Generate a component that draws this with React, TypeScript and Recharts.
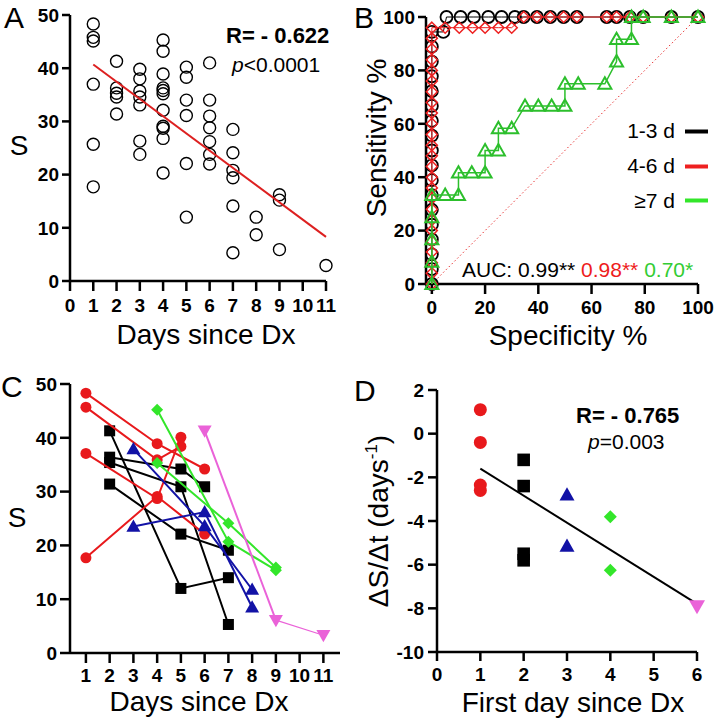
import React from 'react'
import { ScatterChart, Scatter, XAxis, YAxis } from 'recharts'

const FONT = "'Liberation Sans', Arial, Helvetica, sans-serif"
const RED = '#e8191c'
const BLUE = '#1212a6'
const LIME = '#33e62a'
const GREEN = '#2cbf2c'
const PINK = '#ea62d8'

// ---- panel A: S vs days since Dx
const A_DAYS = [1, 2, 3, 4, 5, 6, 7, 8, 9, 11]
const A_SCORES = [
  [48.3, 45.8, 45.1, 37.0, 25.7, 17.7],
  [41.3, 36.3, 35.3, 34.6, 31.4],
  [39.8, 38.0, 35.7, 34.6, 33.1, 26.3, 23.8],
  [45.3, 43.2, 38.9, 36.3, 35.8, 35.2, 32.1, 29.1, 28.7, 26.8, 20.3],
  [40.2, 38.3, 34.0, 31.1, 22.1, 12.0],
  [41.0, 34.0, 31.0, 28.8, 26.2, 23.8, 22.0],
  [28.5, 24.1, 20.8, 19.4, 14.1, 5.3],
  [12.0, 8.7],
  [16.2, 15.2, 5.9],
  [2.9],
]
const A_FIT: [number, number][] = [[1, 40.7], [11, 8.3]]
const A_X_TICKS = [0, 1, 2, 3, 4, 5, 6, 7, 8, 9, 10, 11]
const S_TICKS = [0, 10, 20, 30, 40, 50]

// ---- panel B: ROC curves (specificity %, sensitivity %)
const B_BLACK: [number, number][] = [
  [0, 0], [0, 5.6], [0, 11.1], [0, 16.7], [0, 22.2], [0, 27.8], [0, 33.3], [0, 38.9], [0, 44.4],
  [0, 50], [0, 55.6], [0, 61.1], [0, 66.7], [0, 72.2], [0, 77.8], [0, 83.3], [0, 88.9], [0, 94.4],
  [4.3, 94.4], [5.5, 100], [10.8, 100], [15.8, 100], [21.2, 100], [26.2, 100], [31.2, 100],
  [34.5, 100], [39.5, 100], [44.5, 100], [49.5, 100], [54.5, 100], [65.7, 100], [69.4, 100],
  [74.4, 100], [79.4, 100], [90, 100], [100, 100],
]
const B_RED: [number, number][] = [
  [0, 0], [0, 4], [0, 8], [0, 12], [0, 16], [0, 20], [0, 24], [0, 28], [0, 32], [0, 36], [0, 40],
  [0, 44], [0, 48], [0, 52], [0, 56], [0, 60], [0, 64], [0, 68], [0, 72], [0, 76], [0, 80], [0, 84],
  [0, 88], [0, 92], [0, 96], [5, 96], [10.3, 96], [15.3, 96], [20, 96], [25, 96], [30, 96],
  [34.5, 100], [39.5, 100], [44.5, 100], [49.5, 100], [54.5, 100], [65.7, 100], [69.4, 100],
  [74.4, 100], [79.4, 100], [90, 100], [100, 100],
]
const B_GREEN: [number, number][] = [
  [0, 0], [0, 8.3], [0, 16.7], [0, 25], [0, 33.3], [5, 33.3], [10, 33.3], [10, 41.7], [15, 41.7],
  [20, 41.7], [20, 50], [25, 50], [25, 58.3], [30, 58.3], [35, 66.7], [40, 66.7], [45, 66.7],
  [50, 66.7], [50, 75], [55, 75], [65, 75], [69.4, 83.3], [69.4, 91.7], [75, 91.7], [75, 100],
  [79.4, 100], [90, 100], [100, 100],
]
const B_CHANCE: [number, number][] = [[0, 0], [100, 100]]
const PCT_TICKS = [0, 20, 40, 60, 80, 100]

// ---- panel C: per-patient trajectories
const C_BLACK: [number, number][][] = [
  [[2, 41.3], [5, 12.0], [7, 14.0]],
  [[2, 36.4], [5, 34.2], [6, 30.9]],
  [[2, 35.4], [5, 30.9], [7, 5.3]],
  [[2, 31.4], [5, 22.1], [7, 19.1]],
]
const C_RED: [number, number][][] = [
  [[1, 48.3], [4, 38.9], [6, 34.2]],
  [[1, 45.7], [4, 35.9], [5, 38.4]],
  [[1, 37.1], [4, 28.7], [5, 40.1]],
  [[1, 17.7], [4, 29.1], [6, 22.1]],
]
const C_BLUE: [number, number][][] = [
  [[3, 37.9], [6, 23.6], [8, 11.8]],
  [[3, 23.5], [6, 26.2], [8, 8.5]],
]
const C_GREEN: [number, number][][] = [
  [[4, 45.2], [7, 20.7], [9, 15.4]],
  [[4, 35.3], [7, 24.1], [9, 15.9]],
]
const C_PINK: [number, number][] = [[6, 41.3], [9, 6.1], [11, 3.3]]
const C_X_TICKS = [1, 2, 3, 4, 5, 6, 7, 8, 9, 10, 11]

// ---- panel D: slope vs first day
const D_RED: [number, number][] = [[1, 1.1], [1, -0.4], [1, -2.35], [1, -2.6]]
const D_BLACK: [number, number][] = [[2, -1.2], [2, -2.4], [2, -5.5], [2, -5.8]]
const D_BLUE: [number, number][] = [[3, -2.8], [3, -5.15]]
const D_GREEN: [number, number][] = [[4, -3.8], [4, -6.25]]
const D_PINK: [number, number][] = [[6, -7.9]]
const D_FIT: [number, number][] = [[1, -1.6], [6, -7.8]]
const D_X_TICKS = [0, 1, 2, 3, 4, 5, 6]
const D_Y_TICKS = [-10, -8, -6, -4, -2, 0, 2]

const pts = (a: [number, number][]) => a.map(([x, y]) => ({ x, y }))

const axisLine = { stroke: '#000', strokeWidth: 2.5 }
const tick = { fill: '#000', fontSize: 19, fontWeight: 700, fontFamily: FONT }

// marker shapes
const none = () => <g />
const ring = (r: number, color: string, sw: number) => (p: any) =>
  <circle cx={p.cx} cy={p.cy} r={r} fill="none" stroke={color} strokeWidth={sw} />
const dot = (r: number, color: string) => (p: any) => <circle cx={p.cx} cy={p.cy} r={r} fill={color} />
const square = (h: number, color: string) => (p: any) =>
  <rect x={p.cx - h} y={p.cy - h} width={h * 2} height={h * 2} fill={color} />
const diamond = (h: number, color: string, open = false) => (p: any) => (
  <polygon
    points={`${p.cx},${p.cy - h} ${p.cx + h},${p.cy} ${p.cx},${p.cy + h} ${p.cx - h},${p.cy}`}
    fill={open ? 'none' : color}
    stroke={color}
    strokeWidth={open ? 1.5 : 0}
  />
)
const triUp = (w: number, color: string, open = false) => (p: any) => (
  <polygon
    points={`${p.cx},${p.cy - w} ${p.cx + w},${p.cy + w * 0.75} ${p.cx - w},${p.cy + w * 0.75}`}
    fill={open ? 'none' : color}
    stroke={color}
    strokeWidth={open ? 2 : 0}
  />
)
const triDown = (w: number, color: string) => (p: any) => (
  <polygon points={`${p.cx - w},${p.cy - w * 0.75} ${p.cx + w},${p.cy - w * 0.75} ${p.cx},${p.cy + w}`} fill={color} />
)

function PanelA() {
  const data = A_DAYS.flatMap((d, i) => A_SCORES[i].map((s) => ({ x: d, y: s })))
  return (
    <ScatterChart width={360} height={360} margin={{ top: 15, right: 34, left: 0, bottom: 0 }}>
      <XAxis type="number" dataKey="x" domain={[0, 11]} ticks={A_X_TICKS} interval={0} height={79}
        axisLine={axisLine} tickLine={axisLine} tickSize={10} tickMargin={8} tick={tick} />
      <YAxis type="number" dataKey="y" domain={[0, 50]} ticks={S_TICKS} width={70}
        axisLine={axisLine} tickLine={axisLine} tickSize={8} tickMargin={3} tick={tick} />
      <Scatter data={data} shape={ring(6, '#000', 1.4)} isAnimationActive={false} />
      <Scatter data={pts(A_FIT)} shape={none} line={{ stroke: '#dd2020', strokeWidth: 2 }} isAnimationActive={false} />
    </ScatterChart>
  )
}

function PanelB() {
  return (
    <ScatterChart width={357} height={360} margin={{ top: 17, right: 19, left: 0, bottom: 0 }}>
      <XAxis type="number" dataKey="x" domain={[-2.2, 100]} ticks={PCT_TICKS} interval={0} height={76}
        axisLine={axisLine} tickLine={axisLine} tickSize={10} tickMargin={7} tick={tick} />
      <YAxis type="number" dataKey="y" domain={[0, 100]} ticks={PCT_TICKS} width={66}
        axisLine={axisLine} tickLine={axisLine} tickSize={8} tickMargin={3} tick={tick} />
      <Scatter data={pts(B_CHANCE)} shape={none} isAnimationActive={false}
        line={{ stroke: '#e83030', strokeWidth: 1, strokeDasharray: '1.5 2.5' }} />
      <Scatter data={pts(B_BLACK)} shape={ring(6, '#000', 1.8)} line={{ stroke: '#000', strokeWidth: 1 }} isAnimationActive={false} />
      <Scatter data={pts(B_RED)} shape={diamond(5.5, '#ee2020', true)} line={{ stroke: '#ee2020', strokeWidth: 1 }} isAnimationActive={false} />
      <Scatter data={pts(B_GREEN)} shape={triUp(6.5, GREEN, true)} line={{ stroke: GREEN, strokeWidth: 1.5 }} isAnimationActive={false} />
    </ScatterChart>
  )
}

function PanelC() {
  const lw = 2
  return (
    <ScatterChart width={360} height={360} margin={{ top: 24, right: 20, left: 0, bottom: 0 }}>
      <XAxis type="number" dataKey="x" domain={[0.33, 11.7]} ticks={C_X_TICKS} interval={0} height={67}
        axisLine={axisLine} tickLine={axisLine} tickSize={10} tickMargin={6} tick={tick} />
      <YAxis type="number" dataKey="y" domain={[0, 50]} ticks={S_TICKS} width={70}
        axisLine={axisLine} tickLine={axisLine} tickSize={10} tickMargin={3} tick={tick} />
      {C_BLACK.map((s, i) => (
        <Scatter key={'k' + i} data={pts(s)} shape={square(5.5, '#000')} line={{ stroke: '#000', strokeWidth: lw }} isAnimationActive={false} />
      ))}
      {C_RED.map((s, i) => (
        <Scatter key={'r' + i} data={pts(s)} shape={dot(5.5, RED)} line={{ stroke: RED, strokeWidth: lw }} isAnimationActive={false} />
      ))}
      {C_BLUE.map((s, i) => (
        <Scatter key={'b' + i} data={pts(s)} shape={triUp(7, BLUE)} line={{ stroke: BLUE, strokeWidth: lw }} isAnimationActive={false} />
      ))}
      {C_GREEN.map((s, i) => (
        <Scatter key={'g' + i} data={pts(s)} shape={diamond(6, LIME)} line={{ stroke: LIME, strokeWidth: lw }} isAnimationActive={false} />
      ))}
      <Scatter data={pts(C_PINK.slice(0, 2))} shape={none} line={{ stroke: PINK, strokeWidth: lw }} isAnimationActive={false} />
      <Scatter data={pts(C_PINK.slice(1))} shape={none} line={{ stroke: PINK, strokeWidth: 1.2 }} isAnimationActive={false} />
      <Scatter data={pts(C_PINK)} shape={triDown(7, PINK)} isAnimationActive={false} />
    </ScatterChart>
  )
}

function PanelD() {
  return (
    <ScatterChart width={357} height={361} margin={{ top: 30, right: 20, left: 0, bottom: 0 }}>
      <XAxis type="number" dataKey="x" domain={[0, 6]} ticks={D_X_TICKS} interval={0} height={69}
        axisLine={axisLine} tickLine={axisLine} tickSize={9} tickMargin={7} tick={tick} />
      <YAxis type="number" dataKey="y" domain={[-10, 2]} ticks={D_Y_TICKS} width={77}
        axisLine={axisLine} tickLine={axisLine} tickSize={9} tickMargin={4} tick={tick} />
      <Scatter data={pts(D_FIT)} shape={none} line={{ stroke: '#000', strokeWidth: 2 }} isAnimationActive={false} />
      <Scatter data={pts(D_RED)} shape={dot(6.5, RED)} isAnimationActive={false} />
      <Scatter data={pts(D_BLACK)} shape={square(6.3, '#000')} isAnimationActive={false} />
      <Scatter data={pts(D_BLUE)} shape={triUp(7.5, BLUE)} isAnimationActive={false} />
      <Scatter data={pts(D_GREEN)} shape={diamond(6.5, LIME)} isAnimationActive={false} />
      <Scatter data={pts(D_PINK)} shape={triDown(8, PINK)} isAnimationActive={false} />
    </ScatterChart>
  )
}

const at = (left: number, top: number): React.CSSProperties => ({ position: 'absolute', left, top })

export default function App() {
  const title = { fontFamily: FONT, fontSize: 28, fill: '#000' }
  const letter = { fontFamily: FONT, fontSize: 30, fill: '#000' }
  const note = { fontFamily: FONT, fontSize: 21, fill: '#000' }
  return (
    <div style={{ position: 'absolute', left: 0, top: 0, width: 717, height: 721, background: '#fff', overflow: 'hidden' }}>
      <div style={at(0, 0)}><PanelA /></div>
      <div style={at(360, 0)}><PanelB /></div>
      <div style={at(0, 360)}><PanelC /></div>
      <div style={at(360, 360)}><PanelD /></div>
      <svg width={717} height={721} style={{ position: 'absolute', left: 0, top: 0, pointerEvents: 'none' }}>
        <text x={4} y={28} style={letter}>A</text>
        <text x={354} y={28} style={letter}>B</text>
        <text x={1} y={397} style={letter}>C</text>
        <text x={354} y={401} style={letter}>D</text>

        <text x={19} y={155} textAnchor="middle" style={title}>S</text>
        <text x={206} y={344} textAnchor="middle" style={title}>Days since Dx</text>
        <text x={226} y={43} style={{ ...note, fontSize: 22, fontWeight: 700 }}>R= - 0.622</text>
        <text x={232} y={72} style={note}><tspan fontStyle="italic">p</tspan>&lt;0.0001</text>

        <text x={386} y={138} textAnchor="middle" transform="rotate(-90 386 138)" style={title}>Sensitivity %</text>
        <text x={568} y={345} textAnchor="middle" style={title}>Specificity %</text>
        <text x={675} y={138} textAnchor="end" style={note}>1-3 d</text>
        <text x={675} y={173} textAnchor="end" style={note}>4-6 d</text>
        <text x={675} y={208} textAnchor="end" style={note}>≥7 d</text>
        <line x1={685} x2={708} y1={131.5} y2={131.5} stroke="#000" strokeWidth={4} />
        <line x1={685} x2={708} y1={166.5} y2={166.5} stroke="#ee2020" strokeWidth={4} />
        <line x1={685} x2={708} y1={200.5} y2={200.5} stroke={LIME} strokeWidth={4} />
        <text x={462} y={277} style={note}>
          AUC: 0.99** <tspan fill="#ee1c1c">0.98**</tspan> <tspan fill="#33cc33">0.70*</tspan>
        </text>

        <text x={17} y={527} textAnchor="middle" style={title}>S</text>
        <text x={199} y={711} textAnchor="middle" style={title}>Days since Dx</text>

        <text x={388} y={521} textAnchor="middle" transform="rotate(-90 388 521)" style={title}>
          ΔS/Δt (days<tspan fontSize={17} dy={-11}>-1</tspan><tspan dy={11}>)</tspan>
        </text>
        <text x={573} y={712} textAnchor="middle" style={title}>First day since Dx</text>
        <text x={576} y={423} style={{ ...note, fontSize: 22, fontWeight: 700 }}>R= - 0.765</text>
        <text x={588} y={449} style={note}><tspan fontStyle="italic">p</tspan>=0.003</text>
      </svg>
    </div>
  )
}
